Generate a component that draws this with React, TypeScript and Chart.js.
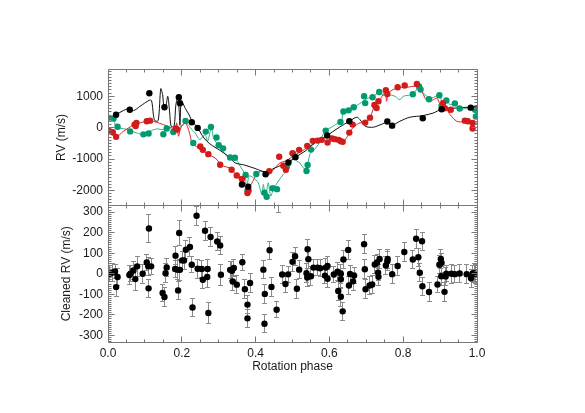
import React, { useEffect, useRef } from 'react';
import { Chart, registerables } from 'chart.js';
Chart.register(...registerables);

const FONT = '"Liberation Sans", Arial, Helvetica, sans-serif';
const AXIS_COLOR = '#777777';
const TEXT_COLOR = '#1a1a1a';
const RED = '#d01c1c';
const GREEN = '#009a70';

// ---- axes ----
const X_TICKS = [0, 0.2, 0.4, 0.6, 0.8, 1.0];
const X_MINOR_STEP = 0.05;
const TOP_Y_TICKS = [-2000, -1000, 0, 1000];
const TOP_Y_MINOR_STEP = 100;
const TOP_Y_RANGE = [-2480, 1850];
const BOTTOM_Y_TICKS = [-300, -200, -100, 0, 100, 200, 300];
const BOTTOM_Y_MINOR_STEP = 10;
const BOTTOM_Y_RANGE = [-332, 332];

// ---- top panel: observed RV ----
const BLACK_PHASE = [0.022, 0.059, 0.112, 0.153, 0.192, 0.195, 0.227, 0.243, 0.363, 0.380, 0.427, 0.489, 0.508, 0.594, 0.654, 0.757, 0.770, 0.853, 0.904, 0.983];
const BLACK_RV = [410, 570, 1095, 650, 970, 775, 170, -10, -1810, -1880, -1485, -1110, -940, -250, 203, 195, 63, 298, 584, 635];

const RED_PHASE = [0.004, 0.013, 0.022, 0.072, 0.075, 0.077, 0.105, 0.114, 0.184, 0.187, 0.250, 0.257, 0.272, 0.304, 0.335, 0.349, 0.363, 0.378, 0.381, 0.437, 0.464, 0.475, 0.482, 0.500, 0.518, 0.540, 0.555, 0.568, 0.579, 0.595, 0.607, 0.615, 0.625, 0.631, 0.636, 0.654, 0.663, 0.697, 0.710, 0.722, 0.728, 0.733, 0.753, 0.757, 0.785, 0.804, 0.837, 0.908, 0.913, 0.929, 0.967, 0.975, 0.988, 0.988];
const RED_RV = [-115, -150, -295, 95, 50, 150, 203, 222, -30, -60, -600, -708, -845, -1184, -1343, -1524, -1638, -2083, -2010, -1384, -930, -1216, -1343, -813, -708, -581, -422, -413, -390, -476, -349, -368, -390, -432, -454, -159, 95, 159, 317, 720, 625, 838, 1190, 1070, 1283, 1340, 1387, 780, 620, 570, 222, 200, 150, -30];

const GREEN_PHASE = [0.001, 0.015, 0.026, 0.060, 0.096, 0.110, 0.150, 0.159, 0.177, 0.210, 0.231, 0.265, 0.279, 0.294, 0.300, 0.312, 0.331, 0.344, 0.373, 0.378, 0.402, 0.424, 0.430, 0.446, 0.458, 0.484, 0.502, 0.538, 0.541, 0.550, 0.590, 0.630, 0.638, 0.652, 0.666, 0.694, 0.697, 0.717, 0.735, 0.826, 0.843, 0.847, 0.870, 0.898, 0.904, 0.917, 0.940, 0.953, 0.995, 0.997];
const GREEN_RV = [310, 290, 25, -120, -215, -190, -210, -30, -140, 208, -490, -127, 20, -317, -560, -660, -950, -962, -1510, -2000, -1475, -2073, -2200, -1930, -1960, -1257, -835, -1380, -1190, -700, -95, 180, 515, 550, 648, 1000, 780, 965, 1133, 1060, 1310, 1215, 902, 1030, 700, 865, 770, 610, 566, 355];

// ---- top panel: model curves ----
const BLACK_MODEL_PHASE = [0.000, 0.022, 0.038, 0.055, 0.069, 0.087, 0.112, 0.118, 0.123, 0.127, 0.136, 0.143, 0.148, 0.152, 0.157, 0.162, 0.167, 0.171, 0.179, 0.184, 0.189, 0.193, 0.195, 0.199, 0.210, 0.220, 0.228, 0.243, 0.260, 0.276, 0.304, 0.329, 0.344, 0.371, 0.398, 0.427, 0.453, 0.489, 0.508, 0.534, 0.561, 0.594, 0.624, 0.654, 0.674, 0.683, 0.697, 0.719, 0.740, 0.758, 0.770, 0.791, 0.818, 0.853, 0.882, 0.904, 0.946, 0.983, 1.000];
const BLACK_MODEL_RV = [300, 415, 520, 600, 540, 680, 870, 860, 413, 222, 222, 1238, 1048, 625, 700, 997, 500, 44, 44, 730, 950, 520, 76, 838, 600, 400, 203, -10, -330, -517, -730, -940, -1121, -1195, -1300, -1407, -1280, -1100, -940, -750, -486, -250, -10, 203, 330, 254, 44, 13, 100, 172, 76, 203, 330, 381, 467, 584, 625, 657, 680];

const RED_MODEL_PHASE = [0.000, 0.022, 0.042, 0.072, 0.105, 0.123, 0.150, 0.173, 0.182, 0.186, 0.191, 0.195, 0.200, 0.209, 0.215, 0.222, 0.228, 0.245, 0.272, 0.290, 0.302, 0.313, 0.329, 0.337, 0.353, 0.371, 0.380, 0.389, 0.403, 0.417, 0.430, 0.453, 0.466, 0.480, 0.498, 0.532, 0.561, 0.588, 0.624, 0.638, 0.652, 0.663, 0.674, 0.683, 0.697, 0.710, 0.724, 0.737, 0.751, 0.755, 0.760, 0.783, 0.809, 0.837, 0.850, 0.859, 0.869, 0.882, 0.891, 0.900, 0.909, 0.918, 0.927, 0.945, 0.963, 0.976, 0.990, 1.000];
const RED_MODEL_RV = [-115, -295, -115, 95, 200, 200, 95, -10, -95, 150, -273, -95, 60, 150, 44, -222, -486, -645, -857, -962, -1121, -1226, -1280, -1365, -1597, -1756, -1900, -1788, -1492, -1384, -1543, -1280, -1121, -1067, -940, -698, -486, -327, -327, -432, -222, -10, 95, 150, 150, 308, 752, 889, 1124, 838, 1101, 1260, 1283, 1314, 1175, 943, 838, 889, 943, 730, 520, 571, 413, 203, 181, 203, 95, 150];

const GREEN_MODEL_PHASE = [0.000, 0.015, 0.022, 0.042, 0.060, 0.078, 0.096, 0.114, 0.132, 0.150, 0.159, 0.173, 0.180, 0.184, 0.188, 0.195, 0.205, 0.211, 0.218, 0.227, 0.236, 0.249, 0.263, 0.270, 0.280, 0.286, 0.294, 0.304, 0.315, 0.326, 0.331, 0.344, 0.358, 0.371, 0.376, 0.382, 0.394, 0.407, 0.417, 0.421, 0.427, 0.434, 0.441, 0.448, 0.462, 0.475, 0.489, 0.502, 0.511, 0.520, 0.529, 0.538, 0.547, 0.557, 0.570, 0.589, 0.606, 0.624, 0.633, 0.638, 0.653, 0.667, 0.678, 0.694, 0.705, 0.717, 0.735, 0.746, 0.760, 0.778, 0.791, 0.800, 0.814, 0.826, 0.843, 0.850, 0.864, 0.877, 0.898, 0.907, 0.918, 0.927, 0.940, 0.952, 0.972, 0.995, 1.000];
const GREEN_MODEL_RV = [413, 308, 13, -31, -95, -168, -222, -115, -41, -63, 44, -63, -168, 0, -150, 13, 95, 150, 76, -63, -168, -381, -222, -432, 0, -327, -486, -645, -803, -962, -940, -962, -1226, -1492, -2019, -1543, -1597, -1756, -2127, -1810, -2232, -1756, -2178, -1968, -1700, -1492, -1333, -962, -1067, -1121, -1280, -1333, -857, -730, -540, -95, 13, 150, 203, 520, 540, 648, 730, 860, 943, 965, 1133, 1027, 1048, 997, 889, 997, 1027, 1048, 1314, 1155, 997, 943, 1027, 752, 870, 730, 762, 603, 603, 571, 362];

// ---- bottom panel: cleaned RV with errors ----
const CLEAN_PHASE = [0.005, 0.013, 0.019, 0.022, 0.026, 0.058, 0.061, 0.069, 0.074, 0.079, 0.094, 0.105, 0.109, 0.111, 0.110, 0.117, 0.148, 0.153, 0.156, 0.159, 0.182, 0.183, 0.189, 0.190, 0.193, 0.195, 0.201, 0.206, 0.211, 0.222, 0.227, 0.229, 0.240, 0.243, 0.254, 0.257, 0.263, 0.269, 0.270, 0.272, 0.278, 0.296, 0.304, 0.306, 0.331, 0.336, 0.341, 0.338, 0.349, 0.364, 0.371, 0.378, 0.378, 0.385, 0.421, 0.424, 0.425, 0.438, 0.443, 0.457, 0.462, 0.472, 0.481, 0.488, 0.500, 0.507, 0.512, 0.518, 0.538, 0.540, 0.541, 0.543, 0.550, 0.557, 0.568, 0.575, 0.588, 0.590, 0.595, 0.595, 0.612, 0.622, 0.624, 0.631, 0.631, 0.631, 0.636, 0.638, 0.651, 0.653, 0.656, 0.664, 0.667, 0.694, 0.696, 0.698, 0.709, 0.716, 0.723, 0.729, 0.732, 0.733, 0.736, 0.753, 0.757, 0.758, 0.770, 0.785, 0.803, 0.826, 0.835, 0.841, 0.845, 0.851, 0.852, 0.870, 0.893, 0.898, 0.902, 0.904, 0.903, 0.912, 0.915, 0.917, 0.931, 0.940, 0.953, 0.972, 0.984, 0.988, 0.992, 0.996];
const CLEAN_RV = [0, 6, 11, -65, -16, -6, 0, 16, -26, 36, 0, 55, 36, 220, -71, 36, -94, -113, 3, 31, 23, 88, 19, -81, 198, 19, 65, 65, 117, 130, 44, -164, 282, 24, 23, -29, 209, -16, 23, -191, 179, 157, 138, -5, 19, 14, 28, -38, -53, 56, -75, -150, -217, -45, 20, -243, -98, 114, -64, -175, 350, -4, -50, -3, 58, 85, -73, 20, 3, -18, 119, 71, -12, 30, 30, 27, -9, 30, 38, -24, -4, 10, -84, -27, 0, -112, -183, 69, 116, -57, -1, -37, -9, 144, 22, -75, -57, -52, 45, 55, 5, -15, 72, 40, 61, 72, -2, 38, 106, 69, 170, 80, 5, 158, -61, -89, -52, 44, 72, 53, -12, -88, -13, 0, 0, -2, 1, -2, -22, 1, 3, 0];
const CLEAN_ERR = [40, 45, 35, 45, 40, 45, 40, 45, 55, 50, 45, 40, 45, 67, 45, 40, 40, 45, 45, 45, 40, 45, 45, 45, 60, 50, 45, 45, 45, 45, 40, 45, 47, 45, 40, 45, 45, 50, 45, 50, 45, 45, 45, 50, 40, 45, 40, 45, 45, 40, 45, 45, 45, 45, 45, 45, 45, 45, 45, 40, 50, 45, 40, 40, 45, 45, 45, 45, 45, 45, 50, 45, 45, 40, 40, 40, 40, 45, 45, 45, 40, 45, 45, 45, 45, 45, 45, 45, 45, 45, 40, 45, 40, 45, 45, 45, 45, 45, 45, 40, 40, 40, 45, 45, 45, 45, 45, 45, 45, 45, 45, 45, 45, 45, 45, 45, 40, 45, 45, 45, 45, 45, 45, 40, 45, 40, 45, 45, 45, 40, 45, 45];

const zip = (xs: number[], ys: number[]) => xs.map((x, i) => ({ x, y: ys[i] }));

const crisp = (v: number) => Math.floor(v) + 0.5;

function makeFramePlugin(yMinorStep: number) {
  return {
    id: 'idlFrame',
    afterDraw(chart: any) {
      const { ctx, chartArea: a } = chart;
      const xs = chart.scales.x;
      const ys = chart.scales.y;
      const L = crisp(a.left), R = crisp(a.right), T = crisp(a.top), B = crisp(a.bottom);
      ctx.save();
      ctx.strokeStyle = AXIS_COLOR;
      ctx.lineWidth = 1;
      ctx.beginPath();
      ctx.rect(L, T, R - L, B - T);
      // x ticks (bottom & top edges)
      const nx = Math.round((xs.max - xs.min) / X_MINOR_STEP);
      for (let i = 0; i <= nx; i++) {
        const v = xs.min + i * X_MINOR_STEP;
        const isMajor = X_TICKS.some((t) => Math.abs(t - v) < 1e-6);
        const len = isMajor ? 6 : 3;
        const px = crisp(xs.getPixelForValue(v));
        ctx.moveTo(px, B); ctx.lineTo(px, B - len);
        ctx.moveTo(px, T); ctx.lineTo(px, T + len);
      }
      // y ticks (left & right edges)
      const start = Math.ceil(ys.min / yMinorStep);
      const end = Math.floor(ys.max / yMinorStep);
      const majors = ys.ticks.map((t: any) => t.value);
      for (let k = start; k <= end; k++) {
        const v = k * yMinorStep;
        const isMajor = majors.some((t: number) => Math.abs(t - v) < 1e-6);
        const len = isMajor ? 6 : 3;
        const py = crisp(ys.getPixelForValue(v));
        ctx.moveTo(L, py); ctx.lineTo(L + len, py);
        ctx.moveTo(R, py); ctx.lineTo(R - len, py);
      }
      ctx.stroke();
      ctx.restore();
    },
  };
}

const errorBarPlugin = {
  id: 'errorBars',
  beforeDatasetsDraw(chart: any) {
    const { ctx, chartArea: a } = chart;
    const xs = chart.scales.x;
    const ys = chart.scales.y;
    ctx.save();
    ctx.beginPath();
    ctx.rect(a.left, a.top - 1, a.right - a.left, a.bottom - a.top + 1);
    ctx.clip();
    ctx.strokeStyle = '#8a8a8a';
    ctx.lineWidth = 1;
    ctx.beginPath();
    CLEAN_PHASE.forEach((p, i) => {
      const px = crisp(xs.getPixelForValue(p));
      const y1 = ys.getPixelForValue(CLEAN_RV[i] + CLEAN_ERR[i]);
      const y2 = ys.getPixelForValue(CLEAN_RV[i] - CLEAN_ERR[i]);
      ctx.moveTo(px, y1); ctx.lineTo(px, y2);
      ctx.moveTo(px - 2.5, crisp(y1)); ctx.lineTo(px + 2.5, crisp(y1));
      ctx.moveTo(px - 2.5, crisp(y2)); ctx.lineTo(px + 2.5, crisp(y2));
    });
    ctx.stroke();
    ctx.restore();
  },
};

const tickFont = { family: FONT, size: 12 };

export default function App() {
  const topRef = useRef<HTMLCanvasElement | null>(null);
  const botRef = useRef<HTMLCanvasElement | null>(null);

  useEffect(() => {
    const pointDs = (data: any[], color: string) => ({
      type: 'scatter' as const,
      data,
      backgroundColor: color,
      borderColor: color,
      borderWidth: 0,
      pointRadius: 3.2,
      pointHoverRadius: 3.2,
    });
    const lineDs = (data: any[], color: string) => ({
      type: 'line' as const,
      data,
      borderColor: color,
      backgroundColor: color,
      borderWidth: 1,
      pointRadius: 0,
      tension: 0.3,
      fill: false,
    });

    const top = new Chart(topRef.current as HTMLCanvasElement, {
      type: 'scatter',
      data: {
        datasets: [
          pointDs(zip(BLACK_PHASE, BLACK_RV), '#000000'),
          pointDs(zip(RED_PHASE, RED_RV), RED),
          pointDs(zip(GREEN_PHASE, GREEN_RV), GREEN),
          lineDs(zip(BLACK_MODEL_PHASE, BLACK_MODEL_RV), '#111111'),
          lineDs(zip(RED_MODEL_PHASE, RED_MODEL_RV), '#d42a2a'),
          lineDs(zip(GREEN_MODEL_PHASE, GREEN_MODEL_RV), '#35b088'),
        ] as any,
      },
      options: {
        responsive: false,
        animation: false,
        devicePixelRatio: 1,
        layout: { padding: { left: 54.5, top: 69.5, right: 108, bottom: 207.5 } },
        plugins: { legend: { display: false }, tooltip: { enabled: false } },
        scales: {
          x: { type: 'linear', min: 0, max: 1, display: false },
          y: {
            type: 'linear',
            min: TOP_Y_RANGE[0],
            max: TOP_Y_RANGE[1],
            afterBuildTicks: (s: any) => { s.ticks = TOP_Y_TICKS.map((v) => ({ value: v })); },
            afterFit: (s: any) => { s.width = 53.5; },
            grid: { display: false, drawTicks: false },
            border: { display: false },
            ticks: { padding: 5, font: tickFont, color: TEXT_COLOR, callback: (v: any) => String(v) },
            title: { display: true, text: 'RV (m/s)', font: tickFont, color: TEXT_COLOR, padding: 0 },
          },
        },
      } as any,
      plugins: [makeFramePlugin(TOP_Y_MINOR_STEP)],
    });

    const bot = new Chart(botRef.current as HTMLCanvasElement, {
      type: 'scatter',
      data: {
        datasets: [
          pointDs(CLEAN_PHASE.map((x, i) => ({ x, y: CLEAN_RV[i] })), '#000000'),
        ] as any,
      },
      options: {
        responsive: false,
        animation: false,
        devicePixelRatio: 1,
        layout: { padding: { left: 59.5, top: 205.5, right: 108, bottom: 39.1 } },
        plugins: { legend: { display: false }, tooltip: { enabled: false } },
        scales: {
          x: {
            type: 'linear',
            min: 0,
            max: 1,
            afterBuildTicks: (s: any) => { s.ticks = X_TICKS.map((v) => ({ value: v })); },
            afterFit: (s: any) => { s.height = 31.9; },
            grid: { display: false, drawTicks: false },
            border: { display: false },
            ticks: { padding: 4, font: tickFont, color: TEXT_COLOR, maxRotation: 0, autoSkip: false, callback: (v: any) => Number(v).toFixed(1) },
            title: { display: true, text: 'Rotation phase', font: tickFont, color: TEXT_COLOR, padding: 0 },
          },
          y: {
            type: 'linear',
            min: BOTTOM_Y_RANGE[0],
            max: BOTTOM_Y_RANGE[1],
            afterBuildTicks: (s: any) => { s.ticks = BOTTOM_Y_TICKS.map((v) => ({ value: v })); },
            afterFit: (s: any) => { s.width = 48.5; },
            grid: { display: false, drawTicks: false },
            border: { display: false },
            ticks: { padding: 5, font: tickFont, color: TEXT_COLOR, callback: (v: any) => String(v) },
            title: { display: true, text: 'Cleaned RV (m/s)', font: tickFont, color: TEXT_COLOR, padding: 0 },
          },
        },
      } as any,
      plugins: [errorBarPlugin, makeFramePlugin(BOTTOM_Y_MINOR_STEP)],
    });

    return () => {
      top.destroy();
      bot.destroy();
    };
  }, []);

  const canvasStyle: React.CSSProperties = { position: 'absolute', left: 0, top: 0 };
  return (
    <div style={{ position: 'absolute', left: 0, top: 0, width: 585, height: 413, background: '#ffffff' }}>
      <canvas ref={botRef} width={585} height={413} style={canvasStyle} />
      <canvas ref={topRef} width={585} height={413} style={canvasStyle} />
    </div>
  );
}
